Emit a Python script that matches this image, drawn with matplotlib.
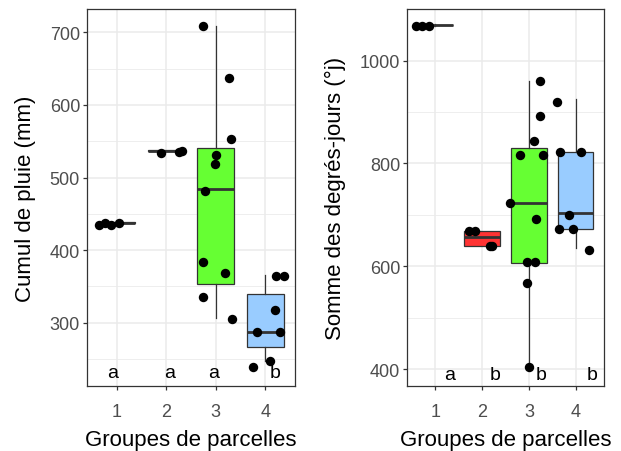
import numpy as np
import matplotlib.pyplot as plt

plt.rcParams['font.family'] = ['Liberation Sans', 'DejaVu Sans']

groups = [1, 2, 3, 4]
colors = ['#FFFFFF', '#FF3333', '#66FF33', '#99CCFF']

# --- Cumul de pluie (mm) ---
rain_stats = {  # box stats
    'whislo': [436, 536, 306, 248],
    'q1':     [437, 536, 353, 267],
    'med':    [438, 537, 484, 288],
    'q3':     [439, 538, 540, 340],
    'whishi': [440, 538, 709, 366],
}
rain_pts_x = [0.64, 0.76, 0.88, 1.04,
              1.90, 2.26, 2.32,
              2.75, 3.26, 3.30, 3.01, 2.98, 2.78, 2.75, 3.19, 2.75, 3.33,
              4.21, 4.38, 4.20, 3.83, 4.29, 4.09, 3.75]
rain_pts_y = [435, 437, 434, 437,
              534, 535, 537,
              708, 637, 553, 531, 518, 482, 384, 368, 335, 305,
              365, 365, 317, 287, 287, 247, 239]
rain_letters = ['a', 'a', 'a', 'b']
rain_letters_x = [0.92, 2.06, 2.96, 4.20]
rain_letters_y = 232

# --- Somme des degres-jours ---
dj_stats = {
    'whislo': [1068, 639, 403, 635],
    'q1':     [1069, 639, 606, 673],
    'med':    [1070, 657, 724, 704],
    'q3':     [1070, 669, 830, 823],
    'whishi': [1071, 669, 961, 925],
}
dj_pts_x = [0.60, 0.72, 0.87,
            1.73, 1.84, 2.16, 2.22,
            3.23, 3.23, 3.11, 2.81, 3.30, 2.60, 3.15, 2.95, 3.12, 2.96, 3.00,
            3.60, 3.67, 4.10, 3.86, 3.64, 3.94, 4.28]
dj_pts_y = [1067, 1067, 1067,
            668, 668, 639, 639,
            960, 892, 844, 817, 817, 723, 691, 608, 608, 567, 403,
            920, 823, 823, 700, 672, 672, 632]
dj_letters = ['a', 'b', 'b', 'b']
dj_letters_x = [1.31, 2.28, 3.27, 4.34]
dj_letters_y = 390


def panel(ax, stats, px, py, letters, lx, ly, ylim, major, minor, ylabel, box_colors, ylab_x):
    bstats = []
    for i in range(4):
        bstats.append(dict(whislo=stats['whislo'][i], q1=stats['q1'][i], med=stats['med'][i],
                           q3=stats['q3'][i], whishi=stats['whishi'][i], fliers=[]))
    bp = ax.bxp(bstats, positions=groups, widths=0.75, patch_artist=True,
                showcaps=False, showfliers=False,
                boxprops=dict(edgecolor='#333333', linewidth=0.9),
                whiskerprops=dict(color='#333333', linewidth=0.9),
                medianprops=dict(color='#333333', linewidth=2.0))
    for patch, c in zip(bp['boxes'], box_colors):
        patch.set_facecolor(c)
    ax.scatter(px, py, s=46, color='black', zorder=5, linewidths=0)
    for t, x in zip(letters, lx):
        ax.text(x, ly, t, ha='center', va='center', fontsize=14, color='black')
    ax.set_xlim(0.4, 4.6)
    ax.set_ylim(*ylim)
    ax.set_xticks(groups)
    ax.set_xticklabels([str(g) for g in groups])
    ax.set_yticks(major)
    ax.set_yticks(minor, minor=True)
    ax.grid(True, which='major', color='#EBEBEB', linewidth=1.1, zorder=0)
    ax.grid(True, which='minor', color='#EBEBEB', linewidth=0.6, zorder=0)
    ax.set_axisbelow(True)
    ax.tick_params(which='major', length=3, color='#333333', labelsize=13,
                   labelcolor='#4D4D4D', width=0.9)
    ax.tick_params(axis='x', which='major', pad=9.5)
    ax.tick_params(axis='y', which='major', pad=2)
    ax.tick_params(which='minor', length=0)
    for s in ax.spines.values():
        s.set_color('#333333')
        s.set_linewidth(0.9)
    ax.set_xlabel('Groupes de parcelles', fontsize=16, labelpad=6)
    ax.set_ylabel(ylabel, fontsize=16, va='center')
    ax.yaxis.set_label_coords(ylab_x, 0.5)


fig = plt.figure(figsize=(6.21, 4.52), dpi=100, facecolor='white')
ax1 = fig.add_axes([87 / 621, 1 - 387 / 452, 208 / 621, 377 / 452])
ax2 = fig.add_axes([407 / 621, 1 - 387 / 452, 197 / 621, 377 / 452])

panel(ax1, rain_stats, rain_pts_x, rain_pts_y, rain_letters, rain_letters_x, rain_letters_y,
      (213, 732), [300, 400, 500, 600, 700], [250, 350, 450, 550, 650],
      'Cumul de pluie (mm)', ['#FFFFFF', '#FFFFFF', colors[2], colors[3]], (25 - 87) / 208)
panel(ax2, dj_stats, dj_pts_x, dj_pts_y, dj_letters, dj_letters_x, dj_letters_y,
      (367, 1100.6), [400, 600, 800, 1000], [500, 700, 900],
      'Somme des degrés-jours (°j)', colors, (335 - 407) / 197)

plt.savefig('out.png', dpi=100, facecolor='white')
